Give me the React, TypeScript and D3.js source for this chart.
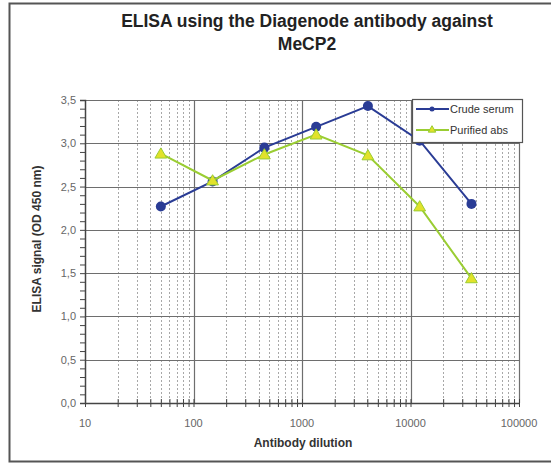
import { useEffect, useRef } from "react";
import * as d3 from "d3";

const dilutions = [50, 150, 450, 1350, 4050, 12150, 36450];
const crudeSerum = [2.27, 2.56, 2.95, 3.19, 3.43, 3.03, 2.3];
const purifiedAbs = [2.88, 2.57, 2.87, 3.1, 2.86, 2.27, 1.44];
const xTicks = [10, 100, 1000, 10000, 100000];
const yTicks = [0, 0.5, 1, 1.5, 2, 2.5, 3, 3.5];

const seriesNames = ["Crude serum", "Purified abs"];
const titleLines = ["ELISA using the Diagenode antibody against", "MeCP2"];

const BLUE = "#2a3c95";
const GREEN = "#9acd32";
const YELLOW = "#e2e22a";

export default function App() {
  const svgRef = useRef<SVGSVGElement>(null);

  useEffect(() => {
    const svg = d3.select(svgRef.current);
    svg.selectAll("*").remove(); // Clear previous render

    const font = "'Liberation Sans', Arial, sans-serif";

    // outer frame
    svg
      .append("rect")
      .attr("x", 9.5)
      .attr("y", 3.5)
      .attr("width", 560)
      .attr("height", 458)
      .attr("fill", "white")
      .attr("stroke", "#555")
      .attr("stroke-width", 2);

    const xScale = d3.scaleLog().domain([10, 100000]).range([85, 519]);
    const yScale = d3.scaleLinear().domain([0, 3.5]).range([403, 100]);

    const g = svg.append("g");

    // minor vertical grid (dashed)
    const minor: number[] = [];
    for (let dec = 10; dec < 100000; dec *= 10) {
      for (let k = 2; k <= 9; k++) minor.push(dec * k);
    }
    g.selectAll("line.minor")
      .data(minor)
      .enter()
      .append("line")
      .attr("x1", (d) => Math.round(xScale(d)) + 0.5)
      .attr("x2", (d) => Math.round(xScale(d)) + 0.5)
      .attr("y1", yScale(3.5))
      .attr("y2", yScale(0))
      .attr("stroke", "#a8a8a8")
      .attr("stroke-dasharray", "2,2");

    // major vertical grid
    g.selectAll("line.majorx")
      .data(xTicks.slice(1))
      .enter()
      .append("line")
      .attr("x1", (d) => Math.round(xScale(d)) + 0.5)
      .attr("x2", (d) => Math.round(xScale(d)) + 0.5)
      .attr("y1", yScale(3.5))
      .attr("y2", yScale(0))
      .attr("stroke", "#6e6e6e")
      .attr("stroke-width", 1.2);

    // horizontal grid
    g.selectAll("line.majory")
      .data(yTicks)
      .enter()
      .append("line")
      .attr("x1", xScale(10))
      .attr("x2", xScale(100000))
      .attr("y1", (d) => Math.round(yScale(d)) + 0.5)
      .attr("y2", (d) => Math.round(yScale(d)) + 0.5)
      .attr("stroke", "#6e6e6e")
      .attr("stroke-width", 1.2);

    // y axis
    const yAxis = g
      .append("g")
      .attr("transform", `translate(${xScale(10)},0)`)
      .call(
        d3
          .axisLeft(yScale)
          .tickValues(d3.range(0, 3.51, 0.1))
          .tickSize(5)
          .tickFormat(() => "")
      );
    yAxis.select(".domain").attr("stroke", "#444").attr("stroke-width", 1.5);
    yAxis.selectAll(".tick line").attr("stroke", "#444");

    g.selectAll("text.ylab")
      .data(yTicks)
      .enter()
      .append("text")
      .attr("x", 76)
      .attr("y", (d) => yScale(d) + 4)
      .attr("text-anchor", "end")
      .attr("font-family", font)
      .attr("font-size", 11)
      .attr("fill", "#666")
      .text((d) => d3.format(".1f")(d).replace(".", ","));

    // x axis
    const xAxis = g
      .append("g")
      .attr("transform", `translate(0,${yScale(0)})`)
      .call(
        d3
          .axisBottom(xScale)
          .tickValues([...xTicks, ...minor])
          .tickSizeInner(4)
          .tickSizeOuter(0)
          .tickFormat(() => "")
      );
    xAxis.select(".domain").attr("stroke", "#444").attr("stroke-width", 1.5);
    xAxis
      .selectAll(".tick line")
      .attr("stroke", "#444")
      .attr("y1", -4)
      .attr("y2", 4);

    g.selectAll("text.xlab")
      .data(xTicks)
      .enter()
      .append("text")
      .attr("x", (d) => xScale(d))
      .attr("y", 427)
      .attr("text-anchor", "middle")
      .attr("font-family", font)
      .attr("font-size", 11)
      .attr("fill", "#666")
      .text((d) => String(d));

    // axis titles
    g.append("text")
      .attr("x", 303)
      .attr("y", 447)
      .attr("text-anchor", "middle")
      .attr("font-family", font)
      .attr("font-size", 12)
      .attr("font-weight", "bold")
      .attr("fill", "#333")
      .text("Antibody dilution");

    g.append("text")
      .attr("transform", `translate(41,239) rotate(-90)`)
      .attr("text-anchor", "middle")
      .attr("font-family", font)
      .attr("font-size", 12)
      .attr("font-weight", "bold")
      .attr("fill", "#333")
      .text("ELISA signal (OD 450 nm)");

    // title
    titleLines.forEach((t, i) => {
      g.append("text")
        .attr("x", 307)
        .attr("y", 27 + i * 23)
        .attr("text-anchor", "middle")
        .attr("font-family", font)
        .attr("font-size", 17.5)
        .attr("font-weight", "bold")
        .attr("fill", "#222")
        .text(t);
    });

    // lines
    const line = d3
      .line<number>()
      .x((_, i) => xScale(dilutions[i]))
      .y((d) => yScale(d));

    const tri = d3.symbol().type(d3.symbolTriangle);

    g.append("path")
      .attr("d", line(crudeSerum))
      .attr("fill", "none")
      .attr("stroke", BLUE)
      .attr("stroke-width", 2);

    g.selectAll("circle.crude")
      .data(crudeSerum)
      .enter()
      .append("circle")
      .attr("cx", (_, i) => xScale(dilutions[i]))
      .attr("cy", (d) => yScale(d))
      .attr("r", 5)
      .attr("fill", BLUE);

    g.append("path")
      .attr("d", line(purifiedAbs))
      .attr("fill", "none")
      .attr("stroke", GREEN)
      .attr("stroke-width", 2);

    g.selectAll("path.purified")
      .data(purifiedAbs)
      .enter()
      .append("path")
      .attr("d", tri.size(60)())
      .attr(
        "transform",
        (d, i) => `translate(${xScale(dilutions[i])},${yScale(d) + 1})`
      )
      .attr("fill", YELLOW)
      .attr("stroke", GREEN)
      .attr("stroke-width", 1);

    // legend
    const legend = g.append("g").attr("transform", "translate(412,99)");
    legend
      .append("rect")
      .attr("x", 0.5)
      .attr("y", 0.5)
      .attr("width", 110)
      .attr("height", 43)
      .attr("fill", "white")
      .attr("stroke", "#555")
      .attr("stroke-width", 1.2);

    seriesNames.forEach((name, i) => {
      const y = 10 + i * 21;
      const color = i === 0 ? BLUE : GREEN;
      legend
        .append("line")
        .attr("x1", 4)
        .attr("x2", 37)
        .attr("y1", y)
        .attr("y2", y)
        .attr("stroke", color)
        .attr("stroke-width", 2);
      if (i === 0) {
        legend
          .append("circle")
          .attr("cx", 20)
          .attr("cy", y)
          .attr("r", 2.5)
          .attr("fill", BLUE);
      } else {
        legend
          .append("path")
          .attr("d", tri.size(24)())
          .attr("transform", `translate(20,${y})`)
          .attr("fill", YELLOW)
          .attr("stroke", GREEN);
      }
      legend
        .append("text")
        .attr("x", 38)
        .attr("y", y + 4)
        .attr("font-family", font)
        .attr("font-size", 11)
        .attr("fill", "#333")
        .text(name);
    });
  }, []);

  return (
    <svg
      ref={svgRef}
      width={551}
      height={464}
      style={{ position: "absolute", left: 0, top: 0, background: "white" }}
    />
  );
}
